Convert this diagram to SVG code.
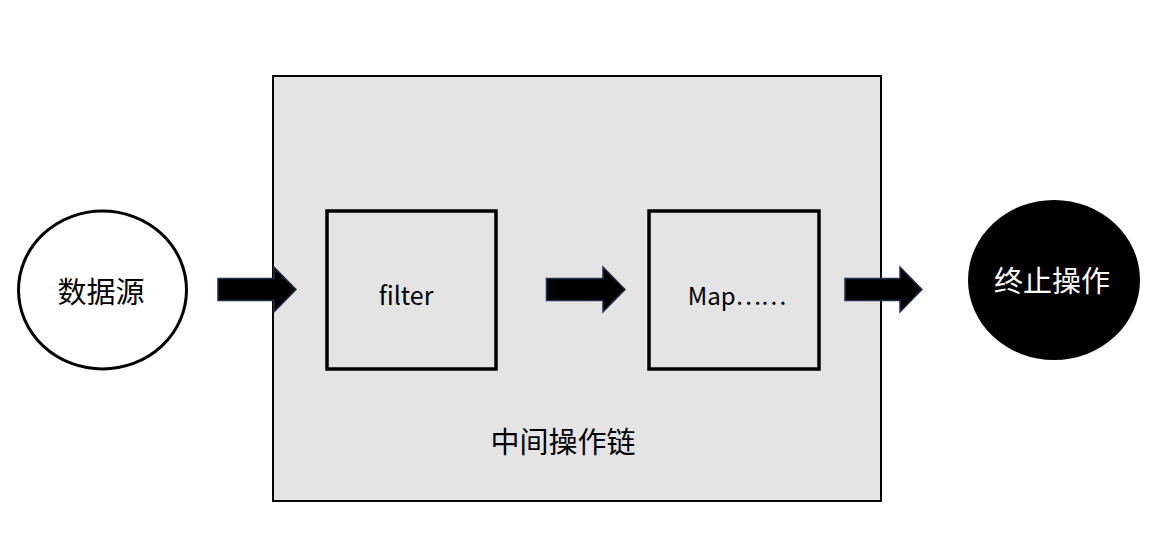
<svg xmlns="http://www.w3.org/2000/svg" width="1162" height="559" viewBox="0 0 1162 559">
<defs>
<style>
.t{font-family:"Noto Sans CJK SC","Noto Sans",sans-serif;font-size:29px;text-anchor:middle;dominant-baseline:central}
.box{fill:none;stroke:#000;stroke-width:3.5}
.arr{fill:#000;stroke:#1f3050;stroke-width:1.5}
</style>
</defs>
<rect width="1162" height="559" fill="#fff"/>
<g id="chain">
<rect x="273" y="76" width="608" height="425" fill="#e4e4e4" stroke="#000" stroke-width="2"/>
<text class="t" x="563" y="440">中间操作链</text>
</g>
<g id="source">
<ellipse cx="102.5" cy="290" rx="84" ry="79" fill="#fff" stroke="#000" stroke-width="3"/>
<text class="t" x="101" y="290">数据源</text>
</g>
<g id="filter">
<rect class="box" x="327" y="211" width="169" height="158"/>
<text class="t" x="406" y="294" style="font-size:25px">filter</text>
</g>
<g id="map">
<rect class="box" x="649" y="211" width="170" height="158"/>
<text class="t" x="737" y="294" style="font-size:24px">Map……</text>
</g>
<g id="terminal">
<ellipse cx="1054" cy="280" rx="86" ry="80" fill="#000"/>
<text class="t" x="1052" y="279" fill="#fff">终止操作</text>
</g>
<g id="connectors">
<polygon class="arr" points="218,278.5 274,278.5 274,267 296,289.5 274,312 274,300.5 218,300.5"/>
<polygon class="arr" points="546.5,278.5 603,278.5 603,267 625,289.5 603,312 603,300.5 546.5,300.5"/>
<polygon class="arr" points="845,278.5 900,278.5 900,267 922,289.5 900,312 900,300.5 845,300.5"/>
</g>
</svg>
